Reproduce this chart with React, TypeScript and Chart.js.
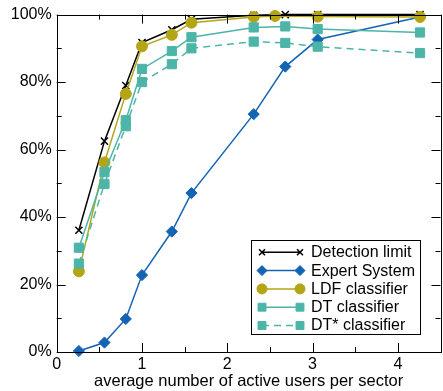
import React, { useEffect, useRef } from 'react';
import { Chart, registerables } from 'chart.js';
import { drawPoint } from 'chart.js/helpers';

Chart.register(...registerables);

// ---- data ----
const xValues = [0.26, 0.56, 0.81, 1.0, 1.35, 1.58, 2.31, 2.68, 3.06, 4.26];
const ldfXValues = [0.26, 0.56, 0.81, 1.0, 1.35, 1.58, 2.31, 2.56, 3.06, 4.26];
const detectionLimit = [36.1, 62.5, 79.0, 91.7, 95.5, 98.6, 99.8, 100, 100, 100];
const expertSystem = [0.3, 2.8, 9.8, 22.8, 35.7, 47.1, 70.5, 84.6, 92.6, 99.3];
const ldfClassifier = [23.9, 56.2, 76.5, 90.6, 94.0, 97.6, 99.3, 99.6, 99.4, 99.3];
const dtClassifier = [30.9, 53.3, 68.7, 83.9, 89.2, 93.3, 96.2, 96.5, 95.7, 94.7];
const dtStarClassifier = [26.2, 49.8, 66.9, 80.0, 85.3, 90.0, 92.0, 91.6, 90.5, 88.6];
const seriesLabels = ['Detection limit', 'Expert System', 'LDF classifier', 'DT classifier', 'DT* classifier'];
const xTicks = [0, 1, 2, 3, 4];
const xMinorTicks = [0.5, 1.5, 2.5, 3.5, 4.5];
const yTicks = [0, 20, 40, 60, 80, 100];
const yMinorTicks = [10, 30, 50, 70, 90];
const xTitle = 'average number of active users per sector';

const FONT = '"Liberation Sans", Arial, Helvetica, sans-serif';
const BLUE = '#1464b4';
const OLIVE = '#b4a514';
const TEAL = '#4db5a8';

const pts = (xs: number[], ys: number[]) => xs.map((x, i) => ({ x, y: ys[i] }));

const legendRadius = [4.2, 5, 5, 5.6, 5.6];

const boxPlugin = {
  id: 'boxPlugin',
  afterDraw(chart: any) {
    const { ctx, chartArea: a, scales } = chart;
    const xs = scales.x;
    const ys = scales.y;
    ctx.save();
    ctx.strokeStyle = '#000';
    ctx.lineWidth = 1;
    const major = 9;
    const minor = 5;
    ctx.beginPath();
    const vx = (v: number, len: number) => {
      const px = Math.round(xs.getPixelForValue(v)) + 0.5;
      ctx.moveTo(px, a.bottom);
      ctx.lineTo(px, a.bottom - len);
      ctx.moveTo(px, a.top);
      ctx.lineTo(px, a.top + len);
    };
    const hy = (v: number, len: number) => {
      const py = Math.round(ys.getPixelForValue(v)) + 0.5;
      ctx.moveTo(a.left, py);
      ctx.lineTo(a.left + len, py);
      ctx.moveTo(a.right, py);
      ctx.lineTo(a.right - len, py);
    };
    xTicks.forEach((v) => vx(v, major));
    xMinorTicks.forEach((v) => vx(v, minor));
    yTicks.forEach((v) => hy(v, major));
    yMinorTicks.forEach((v) => hy(v, minor));
    ctx.stroke();
    ctx.strokeRect(Math.round(a.left) + 0.5, Math.round(a.top) + 0.5, Math.round(a.right - a.left), Math.round(a.bottom - a.top));

    // x axis title
    ctx.fillStyle = '#000';
    ctx.font = `16.5px ${FONT}`;
    ctx.textAlign = 'center';
    ctx.textBaseline = 'middle';
    ctx.fillText(xTitle, (a.left + a.right) / 2, 381);

    // legend
    const lx = 251.5, ly = 240.5, lw = 169, lh = 94;
    ctx.fillStyle = '#fff';
    ctx.fillRect(lx, ly, lw, lh);
    ctx.strokeStyle = '#000';
    ctx.lineWidth = 1;
    ctx.strokeRect(lx, ly, lw, lh);
    const rowY0 = 252.3;
    const rowH = 18.3;
    chart.data.datasets.forEach((ds: any, i: number) => {
      const y = rowY0 + i * rowH;
      const x1 = 262, x2 = 300;
      ctx.save();
      ctx.strokeStyle = ds.borderColor;
      ctx.lineWidth = ds.borderWidth;
      ctx.setLineDash(ds.borderDash || []);
      ctx.beginPath();
      ctx.moveTo(x1, y);
      ctx.lineTo(x2, y);
      ctx.stroke();
      ctx.setLineDash([]);
      ctx.fillStyle = ds.pointBackgroundColor;
      ctx.strokeStyle = ds.pointBorderColor;
      ctx.lineWidth = ds.pointBorderWidth;
      [x1, x2].forEach((px) => {
        drawPoint(ctx, { pointStyle: ds.pointStyle, rotation: 0, radius: legendRadius[i], borderWidth: ds.pointBorderWidth }, px, y);
      });
      ctx.restore();
      ctx.fillStyle = '#000';
      ctx.font = `16px ${FONT}`;
      ctx.textAlign = 'left';
      ctx.textBaseline = 'middle';
      ctx.fillText(ds.label, 311, y + 0.5);
    });
    ctx.restore();
  },
};

export default function App() {
  const ref = useRef<HTMLCanvasElement | null>(null);
  useEffect(() => {
    if (!ref.current) return;
    const common = { showLine: true, tension: 0, clip: false as any, borderWidth: 1.5 };
    const chart = new Chart(ref.current, {
      type: 'scatter',
      data: {
        datasets: [
          {
            ...common,
            label: seriesLabels[0],
            data: pts(xValues, detectionLimit),
            borderColor: '#000',
            pointStyle: 'crossRot',
            pointRadius: 5,
            pointBorderWidth: 1.5,
            pointBackgroundColor: '#000',
            pointBorderColor: '#000',
            order: 5,
          },
          {
            ...common,
            label: seriesLabels[1],
            data: pts(xValues, expertSystem),
            borderColor: BLUE,
            pointStyle: 'rectRot',
            pointRadius: 5.6,
            pointBorderWidth: 1,
            pointBackgroundColor: BLUE,
            pointBorderColor: BLUE,
            order: 4,
          },
          {
            ...common,
            label: seriesLabels[2],
            data: pts(ldfXValues, ldfClassifier),
            borderColor: OLIVE,
            pointStyle: 'circle',
            pointRadius: 5.5,
            pointBorderWidth: 1,
            pointBackgroundColor: OLIVE,
            pointBorderColor: OLIVE,
            order: 3,
          },
          {
            ...common,
            label: seriesLabels[3],
            data: pts(xValues, dtClassifier),
            borderColor: TEAL,
            pointStyle: 'rect',
            pointRadius: 6.5,
            pointBorderWidth: 1,
            pointBackgroundColor: TEAL,
            pointBorderColor: TEAL,
            order: 2,
          },
          {
            ...common,
            label: seriesLabels[4],
            data: pts(xValues, dtStarClassifier),
            borderColor: TEAL,
            borderDash: [7, 5],
            pointStyle: 'rect',
            pointRadius: 6.5,
            pointBorderWidth: 1,
            pointBackgroundColor: TEAL,
            pointBorderColor: TEAL,
            order: 1,
          },
        ],
      },
      options: {
        animation: false,
        responsive: false,
        maintainAspectRatio: false,
        devicePixelRatio: 1,
        layout: { padding: { top: 12, right: 1.3, left: 0, bottom: 0 } },
        plugins: { legend: { display: false }, tooltip: { enabled: false }, title: { display: false } },
        scales: {
          x: {
            type: 'linear',
            min: 0,
            max: 4.5,
            grid: { display: false, drawTicks: false, tickLength: 0 },
            border: { display: false },
            afterBuildTicks: (s: any) => {
              s.ticks = xTicks.map((v) => ({ value: v }));
            },
            afterFit: (s: any) => {
              s.height = 39;
            },
            ticks: {
              color: '#000',
              font: { family: FONT, size: 16 },
              padding: 3,
              maxRotation: 0,
              autoSkip: false,
              callback: (v: any) => String(v),
            },
          },
          y: {
            type: 'linear',
            min: 0,
            max: 100,
            grid: { display: false, drawTicks: false, tickLength: 0 },
            border: { display: false },
            afterBuildTicks: (s: any) => {
              s.ticks = yTicks.map((v) => ({ value: v }));
            },
            afterFit: (s: any) => {
              s.width = 56.7;
            },
            ticks: {
              color: '#000',
              font: { family: FONT, size: 16 },
              padding: 5,
              autoSkip: false,
              callback: (v: any) => `${v}%`,
            },
          },
        },
      },
      plugins: [boxPlugin],
    });
    return () => chart.destroy();
  }, []);
  return (
    <div style={{ position: 'fixed', left: 0, top: 0, width: 443, height: 391, overflow: 'hidden', background: '#fff' }}>
      <canvas ref={ref} width={448} height={391} style={{ display: 'block', width: 448, height: 391 }} />
    </div>
  );
}
